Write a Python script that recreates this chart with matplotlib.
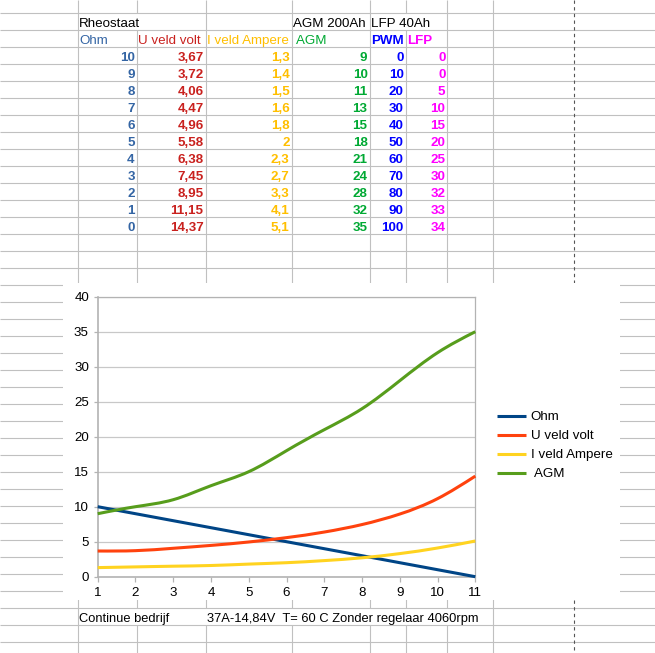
import numpy as np
import matplotlib
matplotlib.use('Agg')
import matplotlib.pyplot as plt
from matplotlib.path import Path
from matplotlib.patches import PathPatch, Rectangle
from matplotlib.lines import Line2D

plt.rcParams['font.family'] = ['Liberation Sans', 'DejaVu Sans']

# ---------------- data ----------------
ohm = [10, 9, 8, 7, 6, 5, 4, 3, 2, 1, 0]
u_veld = [3.67, 3.72, 4.06, 4.47, 4.96, 5.58, 6.38, 7.45, 8.95, 11.15, 14.37]
i_veld = [1.3, 1.4, 1.5, 1.6, 1.8, 2, 2.3, 2.7, 3.3, 4.1, 5.1]
agm = [9, 10, 11, 13, 15, 18, 21, 24, 28, 32, 35]
pwm = [0, 10, 20, 30, 40, 50, 60, 70, 80, 90, 100]
lfp = [0, 0, 5, 10, 15, 20, 25, 30, 32, 33, 34]
x_cats = list(range(1, 12))
y_ticks = list(range(0, 41, 5))
headers = ['Ohm', 'U veld volt', 'I veld Ampere', ' AGM', 'PWM', 'LFP']
titles = ['Rheostaat', 'AGM 200Ah', 'LFP 40Ah']
footer = ['Continue bedrijf', '37A-14,84V  T= 60 C Zonder regelaar 4060rpm']
series_names = ['Ohm', 'U veld volt', 'I veld Ampere', ' AGM']

# ---------------- layout ----------------
W, H = 655, 653
fig = plt.figure(figsize=(W / 100, H / 100), dpi=100)
bg = fig.add_axes([0, 0, 1, 1])
bg.set_xlim(0, W)
bg.set_ylim(H, 0)
bg.axis('off')

col_x = [77.7, 136.7, 205.6, 291.7, 369.5, 405.6, 447.4, 492.5]
page_break = 574.4
R0, RH = 13.3, 17.0
grid_c = '#c0c0c0'
FS = 9.6


def row_top(r):
    return 0 if r == 0 else R0 + RH * (r - 1)


def row_bot(r):
    return R0 + RH * r


hidden = {(1, 136.7), (1, 405.6)}
for cx in [136.7, 205.6, 291.7, 369.5, 405.6, 447.4]:
    hidden.add((36, cx))

# horizontal lines
r = 0
while row_bot(r) < H:
    bg.plot([0, W], [row_bot(r), row_bot(r)], color=grid_c, lw=0.8, zorder=1,
            solid_capstyle='butt')
    r += 1
nrows = r + 1
# vertical lines
for cx in col_x:
    for r in range(nrows):
        if (r, cx) in hidden:
            continue
        bg.plot([cx, cx], [row_top(r), min(row_bot(r), H)], color=grid_c,
                lw=0.8, zorder=1, solid_capstyle='butt')
bg.plot([page_break, page_break], [0, H], color='#555555', lw=0.8,
        dashes=(3, 3), zorder=1)

# chart area (white)
cx0, cy0, cx1, cy1 = 63.3, 282.7, 620, 600
bg.add_patch(Rectangle((cx0, cy0), cx1 - cx0, cy1 - cy0, facecolor='white',
                       edgecolor='none', zorder=2))


def fmt(v):
    return f"{v:g}".replace('.', ',')


def base(r):
    return row_bot(r) - 3


# title row
bg.text(col_x[0] + 1.6, base(1), titles[0], fontsize=FS, color='black', va='baseline', zorder=3)
bg.text(col_x[3] + 1.6, base(1), titles[1], fontsize=FS, color='black', va='baseline', zorder=3)
bg.text(col_x[4] + 1.6, base(1), titles[2], fontsize=FS, color='black', va='baseline', zorder=3)

col_colors = ['#3465a4', '#c9211e', '#ffbf00', '#00a933', '#0000ff', '#ff00ff']
head_weight = ['normal', 'normal', 'normal', 'normal', 'bold', 'bold']
for j, h in enumerate(headers):
    bg.text(col_x[j] + 1.6, base(2), h, fontsize=FS, color=col_colors[j],
            weight=head_weight[j], va='baseline', zorder=3)

cols = [ohm, u_veld, i_veld, agm, pwm, lfp]
for j, vals in enumerate(cols):
    for i, v in enumerate(vals):
        bg.text(col_x[j + 1] - 2, base(3 + i), fmt(v), fontsize=FS,
                color=col_colors[j], weight='bold', ha='right',
                va='baseline', zorder=3)

bg.text(col_x[0] + 1.6, base(36), footer[0], fontsize=9.3, color='black', va='baseline', zorder=3)
bg.text(col_x[2] + 1.6, base(36), footer[1], fontsize=9.3, color='black', va='baseline', zorder=3)

# ---------------- chart ----------------
px0, px1, py0, py1 = 97.7, 475.3, 296.7, 576.7
ax = fig.add_axes([px0 / W, (H - py1) / H, (px1 - px0) / W, (py1 - py0) / H])
ax.set_xlim(1, 11)
ax.set_ylim(0, 40)
ax.set_facecolor('white')


def spline_path(xs, ys):
    xs = np.asarray(xs, float)
    ys = np.asarray(ys, float)
    n = len(xs)
    h = np.diff(xs)
    A = np.zeros((n, n))
    b = np.zeros(n)
    A[0, 0] = 1
    A[-1, -1] = 1
    for i in range(1, n - 1):
        A[i, i - 1] = h[i - 1]
        A[i, i] = 2 * (h[i - 1] + h[i])
        A[i, i + 1] = h[i]
        b[i] = 6 * ((ys[i + 1] - ys[i]) / h[i] - (ys[i] - ys[i - 1]) / h[i - 1])
    M = np.linalg.solve(A, b)
    verts = [(xs[0], ys[0])]
    codes = [Path.MOVETO]
    for i in range(n - 1):
        hi = h[i]
        s = (ys[i + 1] - ys[i]) / hi
        d0 = s - hi * (2 * M[i] + M[i + 1]) / 6
        d1 = s + hi * (M[i] + 2 * M[i + 1]) / 6
        verts += [(xs[i] + hi / 3, ys[i] + d0 * hi / 3),
                  (xs[i + 1] - hi / 3, ys[i + 1] - d1 * hi / 3),
                  (xs[i + 1], ys[i + 1])]
        codes += [Path.CURVE4] * 3
    return Path(verts, codes)


line_colors = ['#004586', '#ff420e', '#ffd320', '#579d1c']
series = [ohm, u_veld, i_veld, agm]
LW = 2.2
handles = []
for vals, c, name in zip(series, line_colors, series_names):
    p = spline_path(x_cats, vals)
    ax.add_patch(PathPatch(p, facecolor='none', edgecolor=c, lw=LW,
                           capstyle='butt', zorder=3, clip_on=False))
    handles.append(Line2D([], [], color=c, lw=LW, solid_capstyle='butt'))

ax.set_xticks(x_cats)
ax.set_yticks(y_ticks)
ax.yaxis.grid(True, color='#c8c8c8', lw=0.9)
ax.set_axisbelow(True)
for s in ['left', 'bottom', 'right', 'top']:
    ax.spines[s].set_color('#b3b3b3')
ax.spines['left'].set_linewidth(1.2)
ax.spines['bottom'].set_linewidth(1.2)
ax.spines['right'].set_linewidth(0.9)
ax.spines['top'].set_linewidth(0.9)
ax.tick_params(axis='y', direction='out', length=3, width=0.9, color='#b3b3b3',
               labelcolor='black', labelsize=FS, pad=3.3)
ax.tick_params(axis='x', direction='out', length=3.5, width=0.9, color='#b3b3b3',
               labelcolor='black', labelsize=FS, pad=3.6)

fig.legend(handles, series_names, loc='center left',
           bbox_to_anchor=(497.3 / W, 1 - 445.8 / H),
           bbox_transform=fig.transFigure, frameon=False, fontsize=FS,
           handlelength=2.13, handletextpad=0.375, labelspacing=0.5,
           borderpad=0, borderaxespad=0)

fig.savefig('out.png', dpi=100)
